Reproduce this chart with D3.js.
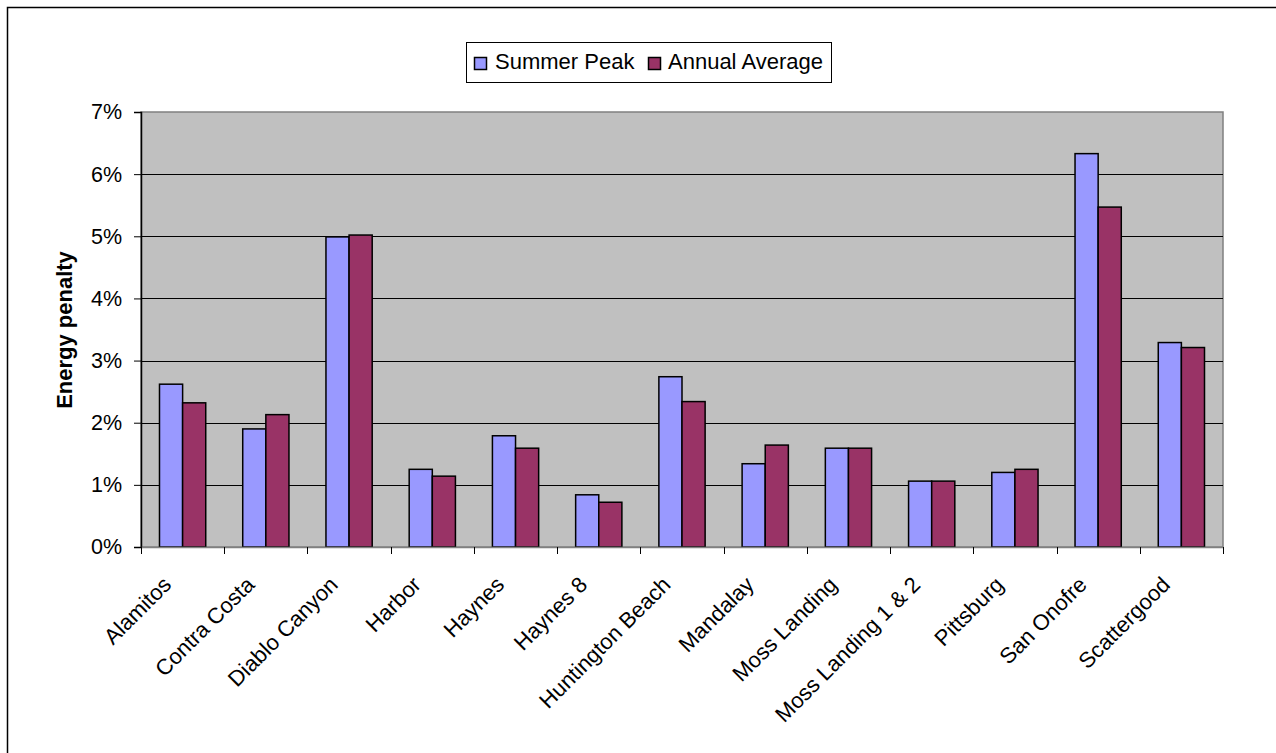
<!DOCTYPE html>
<html>
<head>
<meta charset="utf-8">
<script src="https://cdn.jsdelivr.net/npm/d3@7"></script>
<style>
  html, body { margin: 0; padding: 0; background: #fff; overflow: hidden; }
  svg { display: block; font-family: "Liberation Sans", Arial, sans-serif; }
</style>
</head>
<body>
<svg id="chart" width="1276" height="753"></svg>
<script>
const categories = ["Alamitos", "Contra Costa", "Diablo Canyon", "Harbor", "Haynes", "Haynes 8",
  "Huntington Beach", "Mandalay", "Moss Landing", "Moss Landing 1 & 2", "Pittsburg", "San Onofre", "Scattergood"];
const seriesNames = ["Summer Peak", "Annual Average"];
const summerPeak = [0.0262, 0.0190, 0.0499, 0.0125, 0.0179, 0.0084, 0.0274, 0.0134, 0.0159, 0.0106, 0.0120, 0.0633, 0.0329];
const annualAverage = [0.0232, 0.0213, 0.0502, 0.0114, 0.0159, 0.0072, 0.0234, 0.0164, 0.0159, 0.0106, 0.0125, 0.0547, 0.0321];
const yTicks = [0, 0.01, 0.02, 0.03, 0.04, 0.05, 0.06, 0.07];
const colors = ["#9999FF", "#993366"];

const svg = d3.select("#chart");
const plot = { left: 141, right: 1223, top: 112, bottom: 547 };

// outer frame (only top/left edges fall inside the picture)
svg.append("path").attr("d", "M7.5,760 V7.5 H1290")
  .attr("fill", "none").attr("stroke", "#000").attr("stroke-width", 1.5);

const x = d3.scaleBand().domain(categories).range([plot.left, plot.right]).paddingInner(0).paddingOuter(0);
const y = d3.scaleLinear().domain([0, 0.07]).range([plot.bottom, plot.top]);
const barW = x.bandwidth() / 3.6;

// plot background
svg.append("rect").attr("x", plot.left).attr("y", plot.top)
  .attr("width", plot.right - plot.left).attr("height", plot.bottom - plot.top)
  .attr("fill", "#C0C0C0").attr("stroke", "#808080").attr("stroke-width", 1.5);

// gridlines
svg.append("g").selectAll("line").data(yTicks.filter(t => t > 0 && t < 0.07)).join("line")
  .attr("x1", plot.left).attr("x2", plot.right)
  .attr("y1", d => Math.round(y(d)) + 0.5).attr("y2", d => Math.round(y(d)) + 0.5)
  .attr("stroke", "#000").attr("stroke-width", 1);

// bars
const groups = svg.append("g").selectAll("g").data(categories).join("g");
const allSeries = [summerPeak, annualAverage];
groups.each(function(c, i) {
  const g = d3.select(this);
  const gx = x(c) + (x.bandwidth() - 2 * barW) / 2;
  allSeries.forEach((s, k) => {
    g.append("rect")
      .attr("x", gx + k * barW).attr("width", barW)
      .attr("y", y(s[i])).attr("height", y(0) - y(s[i]))
      .attr("fill", colors[k]).attr("stroke", "#000").attr("stroke-width", 1.5);
  });
});

// y axis
const yAxis = d3.axisLeft(y).tickValues(yTicks).tickFormat(d3.format(".0%")).tickSize(7).tickPadding(12);
const yg = svg.append("g").attr("transform", `translate(${plot.left},0)`).call(yAxis);
yg.select(".domain").attr("stroke", "#000").attr("stroke-width", 1.5);
yg.selectAll(".tick line").attr("stroke", "#000");
yg.selectAll("text").attr("font-size", "21.5px").attr("fill", "#000")
  .attr("font-family", "'Liberation Sans', Arial, sans-serif");

// x axis
const xAxis = d3.axisBottom(x).tickValues([]).tickSize(0);
const xg = svg.append("g").attr("transform", `translate(0,${plot.bottom})`).call(xAxis);
xg.select(".domain").attr("stroke", "#808080").attr("stroke-width", 1.5);
const boundaries = categories.map(c => x(c)).concat([plot.right]);
xg.selectAll("line.b").data(boundaries).join("line").attr("class", "b")
  .attr("x1", d => Math.round(d) + 0.5).attr("x2", d => Math.round(d) + 0.5)
  .attr("y1", 0).attr("y2", 7).attr("stroke", "#000");

svg.append("g").selectAll("text").data(categories).join("text")
  .attr("transform", c => `translate(${x(c) + x.bandwidth() / 2 - 10},${plot.bottom + 39}) rotate(-45)`)
  .attr("text-anchor", "end").attr("font-size", "22px").attr("fill", "#000")
  .text(c => c);

// y title
svg.append("text").attr("transform", `translate(72,330) rotate(-90)`)
  .attr("text-anchor", "middle").attr("font-size", "22px").attr("font-weight", "bold")
  .text("Energy penalty");

// legend
const lg = svg.append("g");
lg.append("rect").attr("x", 466.5).attr("y", 42.5).attr("width", 365).attr("height", 40)
  .attr("fill", "#fff").attr("stroke", "#000").attr("stroke-width", 1);
const legendItems = [{ name: seriesNames[0], sx: 474, tx: 495 }, { name: seriesNames[1], sx: 648, tx: 668 }];
legendItems.forEach((it, k) => {
  lg.append("rect").attr("x", it.sx + 0.5).attr("y", 57.5).attr("width", 12).attr("height", 12)
    .attr("fill", colors[k]).attr("stroke", "#000").attr("stroke-width", 1.5);
  lg.append("text").attr("x", it.tx).attr("y", 69).attr("font-size", "22px").text(it.name);
});
</script>
</body>
</html>
